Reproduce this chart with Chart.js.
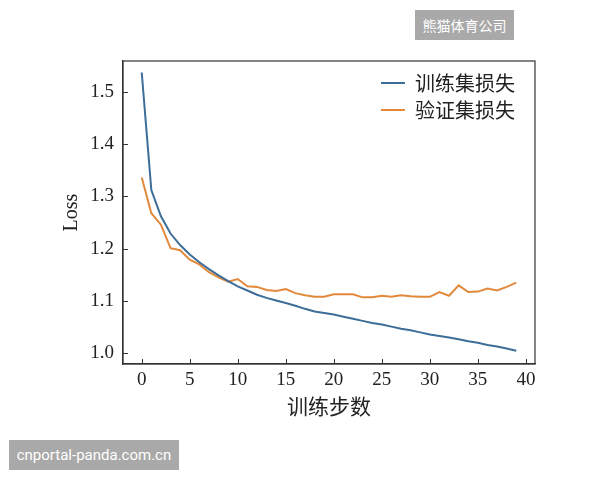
<!DOCTYPE html>
<html>
<head>
<meta charset="utf-8">
<script src="https://cdn.jsdelivr.net/npm/chart.js@4"></script>
<style>
  body { margin: 0; background: #fff; }
  #wrap { position: relative; width: 600px; height: 480px; }
  .mark {
    position: absolute; background: #a9a9a9; color: #fff;
    font-family: "Noto Sans CJK SC", "Noto Sans", sans-serif;
    display: flex; align-items: center; justify-content: center;
    white-space: nowrap;
  }
  #mark1 { left: 415px; top: 10px; width: 99px; height: 30px; font-size: 14px; }
  #mark2 { left: 9px; top: 440px; width: 170px; height: 30px; font-size: 15px; font-family: Roboto, sans-serif; }
</style>
</head>
<body>
<div id="wrap">
  <canvas id="chart" width="600" height="480"></canvas>
  <div class="mark" id="mark1">熊猫体育公司</div>
  <div class="mark" id="mark2">cnportal-panda.com.cn</div>
</div>
<script>
// training steps 0..39
const steps = [0, 1, 2, 3, 4, 5, 6, 7, 8, 9, 10, 11, 12, 13, 14, 15, 16, 17, 18, 19,
               20, 21, 22, 23, 24, 25, 26, 27, 28, 29, 30, 31, 32, 33, 34, 35, 36, 37, 38, 39];
const trainLoss = [1.537, 1.312, 1.262, 1.229, 1.207, 1.189, 1.174, 1.161, 1.149, 1.138,
                   1.128, 1.120, 1.112, 1.106, 1.101, 1.096, 1.091, 1.085, 1.080, 1.077,
                   1.074, 1.070, 1.066, 1.062, 1.058, 1.055, 1.051, 1.047, 1.044, 1.040,
                   1.036, 1.033, 1.030, 1.027, 1.023, 1.020, 1.016, 1.013, 1.009, 1.005];
const valLoss = [1.336, 1.268, 1.246, 1.201, 1.197, 1.179, 1.170, 1.155, 1.145, 1.137,
                 1.142, 1.128, 1.127, 1.121, 1.119, 1.123, 1.115, 1.111, 1.108, 1.108,
                 1.113, 1.113, 1.113, 1.107, 1.107, 1.110, 1.108, 1.111, 1.109, 1.108,
                 1.108, 1.117, 1.110, 1.130, 1.117, 1.118, 1.124, 1.120, 1.127, 1.135];
const xTicks = [0, 5, 10, 15, 20, 25, 30, 35, 40];
const yTicks = [1.0, 1.1, 1.2, 1.3, 1.4, 1.5];
const seriesNames = ['训练集损失', '验证集损失'];

const serif = 'Liberation Serif';
const cjk = 'Noto Sans CJK SC';

// box round the plot area, inward tick marks, legend pushed to the top right corner
const framePlugin = {
  id: 'frame',
  afterLayout(chart) {
    const lg = chart.legend;
    if (lg) {
      lg.left = chart.chartArea.right - 161;
      lg.top = chart.chartArea.top + 5;
    }
  },
  afterDraw(chart) {
    const { ctx, chartArea: a, scales } = chart;
    ctx.save();
    ctx.strokeStyle = '#333';
    ctx.lineWidth = 1.2;
    ctx.strokeRect(a.left, a.top, a.right - a.left, a.bottom - a.top);
    ctx.lineWidth = 1;
    ctx.beginPath();
    scales.x.ticks.forEach(t => {
      const px = Math.round(scales.x.getPixelForValue(t.value)) + 0.5;
      ctx.moveTo(px, a.bottom);
      ctx.lineTo(px, a.bottom - 5);
    });
    scales.y.ticks.forEach(t => {
      const py = Math.round(scales.y.getPixelForValue(t.value)) + 0.5;
      ctx.moveTo(a.left, py);
      ctx.lineTo(a.left + 5, py);
    });
    ctx.stroke();
    ctx.restore();
  }
};

new Chart(document.getElementById('chart'), {
  type: 'line',
  data: {
    datasets: [
      {
        label: seriesNames[0],
        data: steps.map((s, i) => ({ x: s, y: trainLoss[i] })),
        borderColor: '#3d6d99',
        backgroundColor: '#3d6d99',
        borderWidth: 2,
        pointRadius: 0
      },
      {
        label: seriesNames[1],
        data: steps.map((s, i) => ({ x: s, y: valLoss[i] })),
        borderColor: '#e2893c',
        backgroundColor: '#e2893c',
        borderWidth: 2,
        pointRadius: 0
      }
    ]
  },
  options: {
    responsive: false,
    animation: false,
    layout: { padding: { top: 61, right: 65, left: 0, bottom: 0 } },
    plugins: {
      tooltip: { enabled: false },
      legend: {
        position: 'chartArea',
        align: 'start',
        labels: {
          font: { family: cjk, size: 20 },
          color: '#222',
          boxWidth: 24,
          boxHeight: 0,
          padding: 7
        }
      }
    },
    scales: {
      x: {
        type: 'linear',
        min: -1.95,
        max: 40.95,
        afterBuildTicks: (scale) => { scale.ticks = xTicks.map(v => ({ value: v })); },
        afterFit: (scale) => { scale.height = 116; },
        grid: { drawOnChartArea: false, drawTicks: false },
        border: { color: '#333', width: 1.2 },
        ticks: { font: { family: serif, size: 19 }, color: '#222', padding: 5, maxRotation: 0 },
        title: {
          display: true, text: '训练步数',
          font: { family: cjk, size: 21 }, color: '#222',
          padding: { top: 0, bottom: 61 }
        }
      },
      y: {
        min: 0.9795,
        max: 1.559,
        afterBuildTicks: (scale) => { scale.ticks = yTicks.map(v => ({ value: v })); },
        afterFit: (scale) => { scale.width = 123; },
        grid: { drawOnChartArea: false, drawTicks: false },
        border: { color: '#333', width: 1.2 },
        ticks: {
          font: { family: serif, size: 19 }, color: '#222', padding: 9,
          callback: (v) => v.toFixed(1)
        },
        title: {
          display: true, text: 'Loss',
          font: { family: serif, size: 20 }, color: '#222',
          padding: { top: 60, bottom: 0 }
        }
      }
    }
  },
  plugins: [framePlugin]
});
</script>
</body>
</html>
